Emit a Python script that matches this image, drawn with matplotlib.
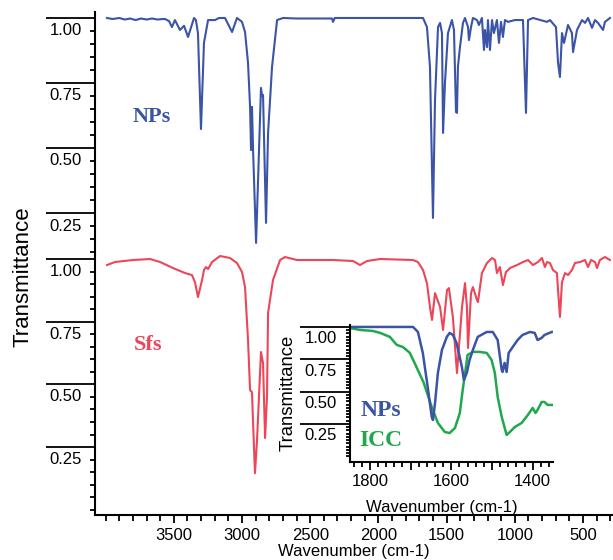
import matplotlib
matplotlib.use("Agg")
import matplotlib.pyplot as plt
from matplotlib.ticker import FixedLocator, NullFormatter
import numpy as np

plt.rcParams["font.family"] = "Liberation Sans"

BLUE = "#3b54a6"
RED = "#ec4658"
GREEN = "#1fa84c"

# NPs spectrum, (wavenumber cm-1, transmittance)
nps = [(3990, 1.0), (3950, 0.996), (3900, 1.0), (3860, 0.994), (3820, 0.998), (3780, 0.992),
       (3740, 0.998), (3700, 0.994), (3660, 0.998), (3620, 0.994), (3580, 0.996), (3564, 0.996),
       (3535, 0.988), (3514, 0.965), (3492, 0.992), (3455, 0.954), (3425, 0.97), (3396, 0.927),
       (3352, 1.0), (3338, 0.992), (3323, 0.942), (3301, 0.573), (3279, 0.904), (3249, 0.992),
       (3198, 0.992), (3169, 1.0), (3125, 1.0), (3073, 0.946), (3037, 1.0), (3000, 0.985),
       (2978, 0.946), (2956, 0.827), (2941, 0.658), (2934, 0.492), (2927, 0.658), (2919, 0.492),
       (2897, 0.135), (2861, 0.731), (2853, 0.70), (2846, 0.704), (2824, 0.212), (2809, 0.558),
       (2780, 0.812), (2743, 0.992), (2699, 1.0), (2600, 0.998), (2340, 0.998), (2333, 0.985),
       (2320, 1.0), (2100, 1.0), (1988, 1.0), (1746, 1.0), (1673, 1.0), (1644, 0.965),
       (1622, 0.812), (1600, 0.231), (1585, 0.685), (1563, 0.965), (1548, 0.981), (1534, 0.942),
       (1526, 0.558), (1512, 0.75), (1490, 0.942), (1461, 0.992), (1446, 0.954), (1431, 0.638),
       (1424, 0.635), (1417, 0.812), (1402, 0.888), (1380, 0.981), (1365, 1.0), (1343, 0.965),
       (1336, 0.915), (1321, 0.965), (1307, 1.0), (1277, 0.992), (1263, 0.973), (1241, 1.0),
       (1226, 0.877), (1219, 0.954), (1204, 0.888), (1197, 0.992), (1182, 0.877), (1167, 0.992),
       (1153, 0.942), (1131, 0.992), (1116, 0.904), (1101, 0.985), (1087, 0.927), (1072, 0.992),
       (1050, 0.985), (1000, 0.992), (940, 0.992), (918, 0.635), (903, 0.992), (867, 1.0),
       (764, 0.985), (742, 0.992), (698, 0.965), (683, 0.827), (669, 0.773), (654, 0.942),
       (639, 0.904), (610, 0.973), (581, 0.942), (573, 0.869), (544, 0.954), (507, 0.992),
       (485, 0.981), (463, 1.0), (434, 0.962), (412, 0.992), (390, 0.981), (353, 0.954),
       (339, 0.985), (302, 1.0)]

# Sfs spectrum
sfs = [(3990, 0.976), (3931, 0.988), (3800, 0.996), (3674, 1.0), (3601, 0.988), (3506, 0.964),
       (3418, 0.944), (3367, 0.936), (3345, 0.908), (3323, 0.848), (3293, 0.916), (3279, 0.956),
       (3264, 0.968), (3249, 0.960), (3220, 0.988), (3161, 1.012), (3088, 1.004), (3037, 0.984),
       (3000, 0.948), (2978, 0.888), (2956, 0.677), (2941, 0.477), (2927, 0.469), (2919, 0.346),
       (2905, 0.146), (2890, 0.278), (2861, 0.629), (2846, 0.585), (2831, 0.286), (2817, 0.450),
       (2809, 0.785), (2795, 0.836), (2773, 0.916), (2721, 0.996), (2685, 1.008), (2597, 0.996),
       (2480, 0.996), (2333, 0.996), (2186, 0.992), (2135, 0.976), (2084, 0.992), (1988, 1.0),
       (1746, 0.996), (1710, 0.988), (1673, 0.956), (1644, 0.904), (1622, 0.809), (1607, 0.757),
       (1585, 0.864), (1548, 0.809), (1526, 0.717), (1497, 0.876), (1483, 0.884), (1454, 0.769),
       (1424, 0.545), (1387, 0.809), (1365, 0.904), (1351, 0.809), (1343, 0.645), (1321, 0.864),
       (1307, 0.888), (1277, 0.836), (1270, 0.828), (1241, 0.944), (1204, 0.984), (1167, 1.004),
       (1145, 0.996), (1131, 0.944), (1109, 0.968), (1087, 0.896), (1065, 0.948), (1035, 0.964),
       (984, 0.976), (940, 0.988), (903, 0.996), (867, 0.976), (830, 0.988), (801, 1.004),
       (779, 0.968), (764, 0.988), (742, 0.984), (720, 0.956), (691, 0.944), (683, 0.876),
       (669, 0.769), (654, 0.908), (632, 0.944), (610, 0.936), (581, 0.956), (559, 0.984),
       (522, 0.988), (485, 0.996), (463, 0.968), (441, 0.996), (412, 0.988), (397, 0.964),
       (376, 0.996), (339, 1.008), (302, 0.996)]

# inset, 1850-1350 cm-1
nps_zoom = [(1849, 1.0), (1694, 1.0), (1682, 0.961), (1670, 0.799), (1658, 0.536), (1648, 0.304),
            (1645, 0.281), (1640, 0.412), (1633, 0.644), (1623, 0.822), (1611, 0.923), (1604, 0.954),
            (1596, 0.938), (1587, 0.876), (1574, 0.691), (1569, 0.590), (1562, 0.644), (1555, 0.745),
            (1547, 0.822), (1535, 0.923), (1513, 0.961), (1498, 0.961), (1486, 0.899), (1476, 0.667),
            (1474, 0.652), (1469, 0.722), (1464, 0.652), (1459, 0.799), (1449, 0.845), (1437, 0.899),
            (1425, 0.938), (1407, 0.961), (1395, 0.954), (1388, 0.899), (1378, 0.915), (1371, 0.938),
            (1353, 0.961)]
icc_zoom = [(1849, 0.992), (1825, 0.977), (1793, 0.969), (1775, 0.954), (1751, 0.923), (1734, 0.861),
            (1719, 0.845), (1702, 0.80), (1690, 0.72), (1668, 0.57), (1648, 0.38), (1633, 0.258),
            (1616, 0.188), (1604, 0.180), (1591, 0.219), (1579, 0.335), (1572, 0.513), (1564, 0.691),
            (1560, 0.783), (1547, 0.807), (1530, 0.807), (1513, 0.799), (1501, 0.745), (1493, 0.644),
            (1486, 0.459), (1476, 0.304), (1464, 0.165), (1456, 0.188), (1444, 0.226), (1427, 0.258),
            (1412, 0.319), (1400, 0.374), (1393, 0.335), (1388, 0.358), (1378, 0.420), (1371, 0.420),
            (1363, 0.397), (1353, 0.397)]

main_major = [0.25, 0.5, 0.75, 1.0]
x_major = [3500, 3000, 2500, 2000, 1500, 1000, 500]
x_minor = list(range(4000, 299, -100))
inset_xmajor = [1800, 1700, 1600, 1500, 1400]
inset_xlabels = ["1800", "", "1600", "", "1400"]


def y_labels(ax, shift, pad, size):
    for v in main_major:
        ax.annotate(f"{v:.2f}", xy=(0, v - shift), xycoords=("axes fraction", "data"),
                    xytext=(-pad, 0), textcoords="offset points",
                    ha="right", va="center", fontsize=size)


def style_y(ax, minors, long_len, short_len):
    ax.yaxis.set_major_locator(FixedLocator(main_major))
    ax.yaxis.set_minor_locator(FixedLocator(minors))
    ax.yaxis.set_major_formatter(NullFormatter())
    ax.tick_params(axis="y", which="major", length=long_len, width=1.3, direction="out")
    ax.tick_params(axis="y", which="minor", length=short_len, width=1.3, direction="out")


fig = plt.figure(figsize=(6.13, 5.6), dpi=100)
W, H = 613, 560

ax_top = fig.add_axes([95 / W, 1 - 255 / H, 518 / W, 243 / H])
ax_bot = fig.add_axes([95 / W, 1 - 515 / H, 518 / W, 260 / H])

ax_top.plot(*zip(*nps), color=BLUE, lw=1.5)
ax_bot.plot(*zip(*sfs), color=RED, lw=1.5)

for ax in (ax_top, ax_bot):
    ax.set_xlim(4078, 280)
    ax.set_facecolor("none")
    for s in ("top", "right"):
        ax.spines[s].set_visible(False)
    ax.spines["left"].set_linewidth(1.5)
    ax.spines["bottom"].set_linewidth(1.5)

ax_top.spines["bottom"].set_visible(False)
ax_top.tick_params(axis="x", which="both", bottom=False, labelbottom=False)
ax_top.set_ylim(0.0885, 1.023)
ax_bot.set_ylim(-0.021, 1.016)

style_y(ax_top, np.round(np.arange(0.10, 1.001, 0.05), 2), 35, 3.6)
style_y(ax_bot, np.round(np.arange(0.0, 1.001, 0.05), 2), 35, 3.6)
y_labels(ax_top, 0.05, 9.4, 12)
y_labels(ax_bot, 0.05, 9.4, 12)

ax_bot.xaxis.set_major_locator(FixedLocator(x_major))
ax_bot.xaxis.set_minor_locator(FixedLocator(x_minor))
ax_bot.tick_params(axis="x", which="major", length=6, width=1.3, labelsize=12, pad=3)
ax_bot.tick_params(axis="x", which="minor", length=4, width=1.3)
ax_bot.set_xlabel("Wavenumber (cm-1)", fontsize=12, labelpad=1)

fig.text(23 / W, 1 - 277 / H, "Transmittance", rotation=90, ha="center", va="center", fontsize=16)

fig.text(152 / W, 1 - 117 / H, "NPs", color=BLUE, fontsize=16, fontweight="bold",
         family="Liberation Serif", ha="center", va="center")
fig.text(148 / W, 1 - 345 / H, "Sfs", color=RED, fontsize=16, fontweight="bold",
         family="Liberation Serif", ha="center", va="center")

# inset
ax_in = fig.add_axes([350 / W, 1 - 462 / H, 203 / W, 137 / H])
ax_in.patch.set_visible(False)
ax_in.plot(*zip(*icc_zoom), color=GREEN, lw=1.8)
ax_in.plot(*zip(*nps_zoom), color=BLUE, lw=1.8)
ax_in.set_xlim(1849, 1350)
ax_in.set_ylim(-0.044, 1.015)
for s in ("top", "right"):
    ax_in.spines[s].set_visible(False)
ax_in.spines["left"].set_linewidth(1.5)
ax_in.spines["bottom"].set_linewidth(1.5)
style_y(ax_in, np.round(np.arange(0.0, 1.001, 0.025), 3), 36, 2.8)
y_labels(ax_in, 0.093, 9.4, 12)
ax_in.xaxis.set_major_locator(FixedLocator(inset_xmajor))
ax_in.xaxis.set_major_formatter(plt.FixedFormatter(inset_xlabels))
ax_in.xaxis.set_minor_locator(FixedLocator(list(range(1840, 1350, -20))))
ax_in.tick_params(axis="x", which="major", length=6, width=1.3, labelsize=12, pad=3)
ax_in.tick_params(axis="x", which="minor", length=3.6, width=1.3)
ax_in.set_xlabel("Wavenumber (cm-1)", fontsize=12, labelpad=1)
ax_in.xaxis.set_label_coords(0.45, -0.28)

fig.text(288 / W, 1 - 393 / H, "Transmittance", rotation=90, ha="center", va="center", fontsize=13.3)
fig.text(381 / W, 1 - 410 / H, "NPs", color=BLUE, fontsize=17, fontweight="bold",
         family="Liberation Serif", ha="center", va="center")
fig.text(381 / W, 1 - 440 / H, "ICC", color=GREEN, fontsize=17, fontweight="bold",
         family="Liberation Serif", ha="center", va="center")

fig.savefig("out.png", dpi=100)
